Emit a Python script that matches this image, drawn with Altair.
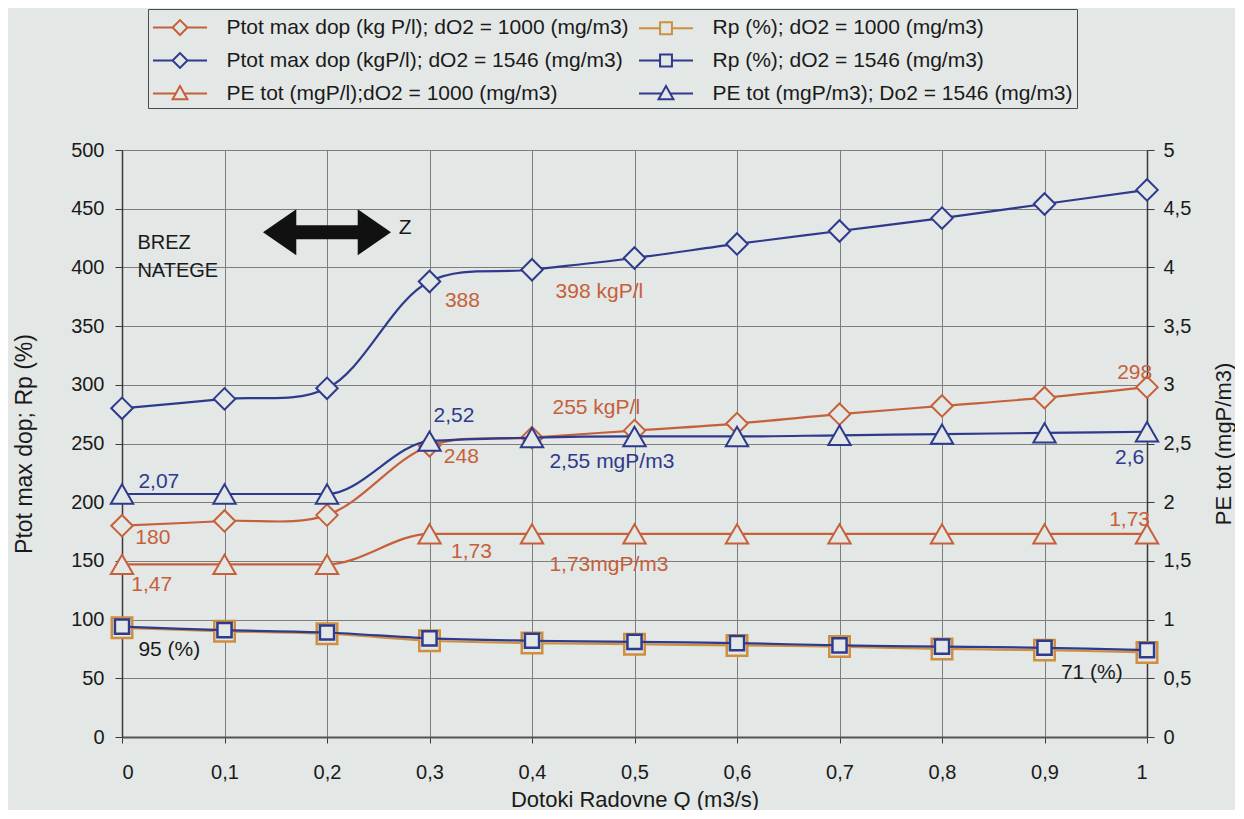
import altair as alt
import pandas as pd

FONT = "Liberation Sans"
BG = "#e3e7e6"
ORANGE = "#c6603a"
GOLD = "#cf8f3f"
BLUE = "#2e3a8c"

# ---- data ----
X = [0.0, 0.1, 0.2, 0.3, 0.4, 0.5, 0.6, 0.7, 0.8, 0.9, 1.0]
PTOT_1000 = [180, 184, 189, 248, 255, 261, 267, 275, 282, 289, 298]
PTOT_1546 = [280, 288, 297, 388, 398, 408, 420, 431, 442, 454, 466]
RP_1000 = [93, 90, 88, 82, 80, 79, 78, 77, 75, 74, 72]
RP_1546 = [94, 91, 89, 84, 82, 81, 80, 78, 77, 76, 74]
PE_1000 = [1.47, 1.47, 1.47, 1.73, 1.73, 1.73, 1.73, 1.73, 1.73, 1.73, 1.73]
PE_1546 = [2.07, 2.07, 2.07, 2.52, 2.55, 2.56, 2.56, 2.57, 2.58, 2.59, 2.60]

S1 = "Ptot max dop (kg P/l); dO2 = 1000 (mg/m3)"
S2 = "Rp (%); dO2 = 1000 (mg/m3)"
S3 = "Ptot max dop (kgP/l); dO2 = 1546 (mg/m3)"
S4 = "Rp (%); dO2 = 1546 (mg/m3)"
S5 = "PE tot (mgP/l);dO2 = 1000 (mg/m3)"
S6 = "PE tot (mgP/m3); Do2 = 1546 (mg/m3)"
# legend fills column by column
SERIES = [S1, S3, S5, S2, S4, S6]
SERIES_COLORS = [ORANGE, BLUE, ORANGE, GOLD, BLUE, BLUE]

X_TICKS = [0.0, 0.1, 0.2, 0.3, 0.4, 0.5, 0.6, 0.7, 0.8, 0.9, 1.0]
LEFT_TICKS = [0, 50, 100, 150, 200, 250, 300, 350, 400, 450, 500]
RIGHT_TICKS = [0, 0.5, 1, 1.5, 2, 2.5, 3, 3.5, 4, 4.5, 5]

# annotations (x, left-axis units)
ANN_TEXT = ["388", "398 kgP/l", "255 kgP/l", "2,52", "248", "2,55 mgP/m3", "2,07",
            "180", "1,73", "1,73mgP/m3", "1,47", "95 (%)", "71 (%)", "Z"]
ANN_X = [0.315, 0.423, 0.42, 0.304, 0.314, 0.417, 0.016,
         0.013, 0.321, 0.417, 0.009, 0.016, 0.916, 0.27]
ANN_Y = [371, 379, 280, 273, 238.7, 234.5, 217,
         169.5, 158, 146.5, 129.5, 74, 54.5, 433.5]
ANN_C = [ORANGE, ORANGE, ORANGE, BLUE, ORANGE, BLUE, BLUE,
         ORANGE, ORANGE, ORANGE, ORANGE, "#1a1a1a", "#1a1a1a", "#1a1a1a"]

END_TEXT = ["298", "2,6", "1,73"]
END_X = [0.988, 0.983, 0.983]
END_Y = [310, 237.6, 185]
END_C = [ORANGE, BLUE, ORANGE]

NOTE_TEXT = ["BREZ\nNATEGE"]
NOTE_X = [0.015]
NOTE_Y = [421]

ARROW_X = [0.2]
ARROW_Y = [430]

# ---- shapes ----
DIAMOND_LEG = "M-2,0L-0.55,0M0.55,0L2,0M-0.55,0L0,-0.55L0.55,0L0,0.55Z"
SQUARE_LEG = "M-2,0L-0.44,0M0.44,0L2,0M-0.44,-0.44L0.44,-0.44L0.44,0.44L-0.44,0.44Z"
TRI_LEG = "M-2,0L-0.31,0M0.31,0L2,0M-0.55,0.42L0,-0.55L0.55,0.42Z"
LEG_PATHS = [DIAMOND_LEG, DIAMOND_LEG, TRI_LEG, SQUARE_LEG, SQUARE_LEG, TRI_LEG]
ARROW = ("M-1,0L-0.48,-0.36L-0.48,-0.11L0.48,-0.11L0.48,-0.36L1,0"
         "L0.48,0.36L0.48,0.11L-0.48,0.11L-0.48,0.36Z")

GRID = "#7d7d7d"
AX = "#3a3a3a"
TXT = "#1a1a1a"

x_enc = alt.X(
    "x:Q",
    scale=alt.Scale(domain=[0, 1], nice=False, zero=False),
    axis=alt.Axis(
        values=X_TICKS,
        labelExpr="replace(format(datum.value, '.1~f'), '.', ',')",
        title="Dotoki Radovne Q (m3/s)",
        grid=True, gridColor=GRID, gridWidth=1,
        domainColor="#555555", domainWidth=2, tickColor=AX, tickSize=6,
        labelFontSize=20, labelPadding=19, labelColor=TXT, labelFont=FONT,
        titleFontSize=22, titleFontWeight="normal", titleColor=TXT, titleFont=FONT,
        titlePadding=7,
    ),
)

y_left = alt.Y(
    "v:Q",
    scale=alt.Scale(domain=[0, 500], nice=False),
    axis=alt.Axis(
        orient="left", values=LEFT_TICKS,
        title="Ptot max dop; Rp (%)",
        grid=True, gridColor=GRID, gridWidth=1,
        domainColor=AX, domainWidth=1.5, tickColor=AX, tickSize=7,
        labelFontSize=20, labelPadding=11, labelColor=TXT, labelFont=FONT,
        titleFontSize=23, titleFontWeight="normal", titleColor=TXT, titleFont=FONT,
        titlePadding=34,
    ),
)

y_right = alt.Y(
    "v:Q",
    scale=alt.Scale(domain=[0, 5], nice=False),
    axis=alt.Axis(
        orient="right", values=RIGHT_TICKS,
        labelExpr="replace(format(datum.value, '.1~f'), '.', ',')",
        title="PE tot (mgP/m3)",
        grid=False,
        domainColor=AX, domainWidth=1.5, tickColor=AX, tickSize=7,
        labelFontSize=20, labelPadding=9, labelColor=TXT, labelFont=FONT,
        titleFontSize=22, titleFontWeight="normal", titleColor=TXT, titleFont=FONT,
        titlePadding=23, titleAngle=270, titleBaseline="top",
    ),
)


def series_layers(vals, color, shape, size, yenc, sw=2, interp="catmull-rom"):
    df = pd.DataFrame({"x": X, "v": vals})
    base = alt.Chart(df).encode(x=x_enc, y=yenc)
    line = base.mark_line(color=color, strokeWidth=2.2, interpolate=interp)
    pts = base.mark_point(shape=shape, size=size, filled=True, fill=BG,
                          stroke=color, strokeWidth=sw, opacity=1)
    return [line, pts]


LEG = alt.Legend(
    title=None, orient="none", legendX=26, legendY=-141, columns=2,
    symbolSize=729, symbolOffset=13.5, labelOffset=32,
    symbolStrokeWidth=2, symbolFillColor=BG,
    labelFontSize=21, labelFont=FONT, labelColor=TXT, labelLimit=800,
    strokeColor="#4a4a4a", fillColor=BG, padding=4,
    rowPadding=7, columnPadding=6,
)

legend_df = pd.DataFrame({"series": SERIES, "x": [0] * 6, "v": [0] * 6})
legend_layer = alt.Chart(legend_df).transform_filter("false").mark_point(
    filled=True, fill=BG, strokeWidth=2, opacity=1
).encode(
    x=x_enc, y=y_left,
    stroke=alt.Stroke("series:N", scale=alt.Scale(domain=SERIES, range=SERIES_COLORS), legend=LEG),
    shape=alt.Shape("series:N", scale=alt.Scale(domain=SERIES, range=LEG_PATHS), legend=LEG),
)

ann_df = pd.DataFrame({"t": ANN_TEXT, "x": ANN_X, "v": ANN_Y, "c": ANN_C})
ann_layer = alt.Chart(ann_df).mark_text(
    align="left", baseline="middle", fontSize=21, font=FONT
).encode(x=x_enc, y=y_left, text="t:N", color=alt.Color("c:N", scale=None))

end_df = pd.DataFrame({"t": END_TEXT, "x": END_X, "v": END_Y, "c": END_C})
end_layer = alt.Chart(end_df).mark_text(
    align="center", baseline="middle", fontSize=21, font=FONT
).encode(x=x_enc, y=y_left, text="t:N", color=alt.Color("c:N", scale=None))

note_df = pd.DataFrame({"t": NOTE_TEXT, "x": NOTE_X, "v": NOTE_Y})
note_layer = alt.Chart(note_df).mark_text(
    align="left", baseline="middle", fontSize=20, font=FONT, color=TXT,
    lineBreak="\n", lineHeight=28,
).encode(x=x_enc, y=y_left, text="t:N")

arrow_df = pd.DataFrame({"x": ARROW_X, "v": ARROW_Y})
arrow_layer = alt.Chart(arrow_df).mark_point(
    shape=ARROW, size=16384, filled=True, fill="#111111", strokeWidth=0, opacity=1
).encode(x=x_enc, y=y_left)

left_layers = (
    series_layers(RP_1000, GOLD, "square", 420, y_left, 2.5)
    + series_layers(RP_1546, BLUE, "square", 200, y_left, 2.5)
    + series_layers(PTOT_1000, ORANGE, "diamond", 460, y_left)
    + series_layers(PTOT_1546, BLUE, "diamond", 460, y_left)
    + [ann_layer, end_layer, note_layer, arrow_layer, legend_layer]
)
right_layers = (
    series_layers(PE_1000, ORANGE, "triangle-up", 500, y_right, interp="monotone")
    + series_layers(PE_1546, BLUE, "triangle-up", 500, y_right, interp="monotone")
)

left = alt.layer(*left_layers)
right = alt.layer(*right_layers)

chart = (
    alt.layer(left, right)
    .resolve_scale(y="independent")
    .properties(
        width=1025, height=587, background=BG,
        padding={"left": 5, "top": 0, "right": 0, "bottom": 0},
    )
    .configure_view(stroke=None)
    .configure(font=FONT)
)

chart.save("out.html", embed_options={"renderer": "svg", "actions": False})
